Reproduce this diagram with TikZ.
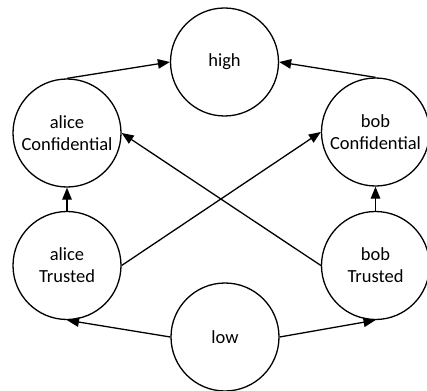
\documentclass[tikz,border=0pt]{standalone}
\usepackage{fontspec}
\setmainfont{Carlito}
\usetikzlibrary{arrows.meta}
\begin{document}
\begin{tikzpicture}[x=1pt,y=-1pt,
  state/.style={circle,draw=black,line width=1.3pt,minimum size=108pt,inner sep=0pt,
    align=center,font=\fontsize{18.5}{22}\selectfont},
  flow/.style={line width=1.3pt,-{Triangle[length=12pt,width=9.5pt]}}]
\useasboundingbox (0,0) rectangle (427,390);
% states
\node[state] (high) at (224.5,62) {high};
\node[state] (aC) at (67,133) {alice\\Confidential};
\node[state] (bC) at (375.5,132) {bob\\Confidential};
\node[state] (aT) at (67,265.5) {alice\\Trusted};
\node[state] (bT) at (375.5,265.5) {bob\\Trusted};
\node[state] (low) at (225,337) {low};
% ordering edges
\draw[flow] (aC.north) -- (high.west);
\draw[flow] (bC.north) -- (high.east);
\draw[flow] (aT.north) -- (aC.south);
\draw[flow] (bT.north) -- (bC.south);
\draw[flow] (aT.east) -- (bC.west);
\draw[flow] (bT.west) -- (aC.east);
\draw[flow] (low.west) -- (aT.south);
\draw[flow] (low.east) -- (bT.south);
\end{tikzpicture}
\end{document}
